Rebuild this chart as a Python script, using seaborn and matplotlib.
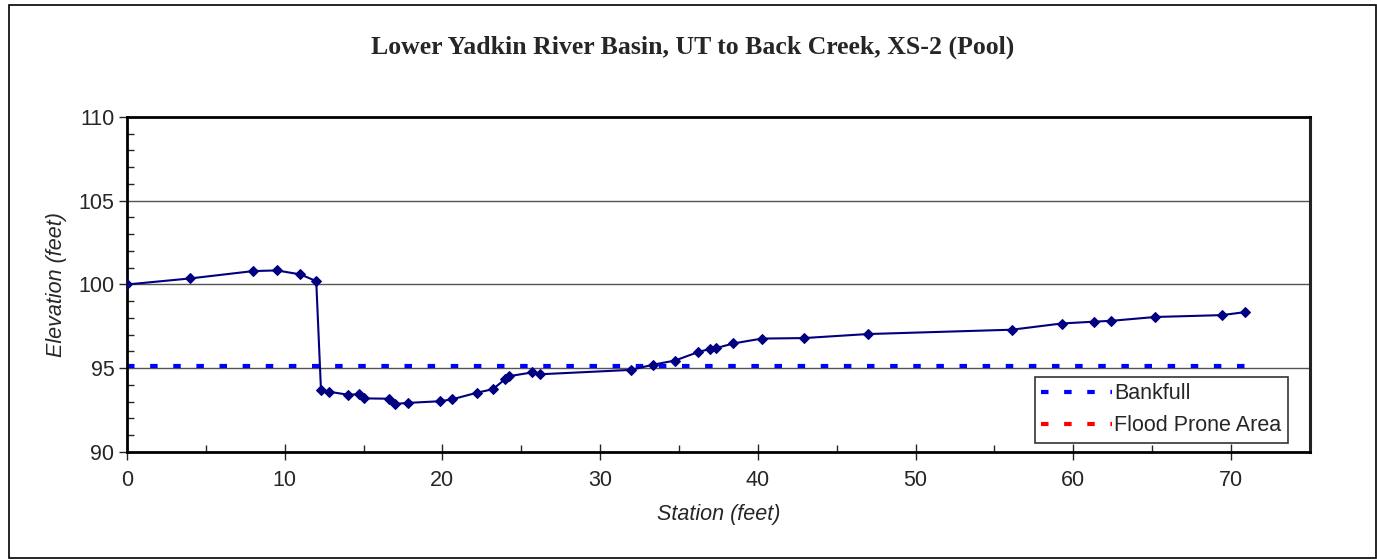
import pandas as pd
import matplotlib
matplotlib.use("Agg")
import matplotlib.pyplot as plt
from matplotlib.lines import Line2D
from matplotlib.patches import Rectangle
from matplotlib.ticker import MultipleLocator
import seaborn as sb

# survey data, XS-2 (Pool)
station = [0.0, 4.0, 8.0, 9.5, 11.0, 12.0, 12.3, 12.8, 14.0, 14.7, 15.0, 16.6, 17.0,
           17.8, 19.85, 20.6, 22.2, 23.2, 23.95, 24.25, 25.7, 26.2, 31.95, 33.35,
           34.75, 36.2, 36.95, 37.35, 38.45, 40.25, 42.9, 46.95, 56.1, 59.25, 61.3,
           62.4, 65.2, 69.4, 70.9]
elevation = [100.0, 100.36, 100.8, 100.84, 100.6, 100.2, 93.72, 93.6, 93.42, 93.45,
             93.2, 93.18, 92.87, 92.93, 93.03, 93.14, 93.54, 93.75, 94.33, 94.53,
             94.75, 94.64, 94.9, 95.21, 95.46, 95.96, 96.15, 96.2, 96.48, 96.77,
             96.8, 97.04, 97.3, 97.67, 97.78, 97.83, 98.06, 98.17, 98.35]
bankfull_station = [0.0, 70.9]
bankfull_elev = [95.15, 95.15]

xs = pd.DataFrame({'station': station, 'elevation': elevation})
bkf = pd.DataFrame({'station': bankfull_station, 'elevation': bankfull_elev})

sb.set_style('white')
plt.rcParams['font.family'] = ['Liberation Sans', 'DejaVu Sans']

fig = plt.figure(figsize=(13.77, 5.6), dpi=100)
ax = fig.add_axes([0.0922, 0.1929, 0.8591, 0.5982])

# rand om de hele figuur
fig.patches.append(Rectangle((0.0065, 0.004), 0.9925, 0.987, transform=fig.transFigure,
                             fill=False, edgecolor='black', linewidth=1.2))

for yv in [95, 100, 105]:
    ax.axhline(yv, color='#555555', linewidth=1.0, zorder=0)

dash = (1.8, 3.75)
sb.lineplot(data=bkf, x='station', y='elevation', ax=ax, color='#0000FF',
            linewidth=3, dashes=False, zorder=2, legend=False)
ax.lines[-1].set_dashes(dash)

sb.lineplot(data=xs, x='station', y='elevation', ax=ax, color='#000080',
            marker='D', markersize=5, markeredgecolor='#000080', linewidth=1.5,
            sort=False, zorder=3, legend=False)

ax.set_xlim(0, 75)
ax.set_ylim(90, 110)
ax.xaxis.set_major_locator(MultipleLocator(10))
ax.xaxis.set_minor_locator(MultipleLocator(5))
ax.yaxis.set_major_locator(MultipleLocator(5))
ax.yaxis.set_minor_locator(MultipleLocator(1))
ax.tick_params(axis='x', which='major', direction='inout', length=12, width=1, labelsize=15.5,
               bottom=True, pad=7)
ax.tick_params(axis='x', which='minor', direction='in', length=5, width=1, bottom=True)
ax.tick_params(axis='y', which='major', direction='out', length=6, width=1, labelsize=15.5,
               left=True, pad=3)
ax.tick_params(axis='y', which='minor', direction='in', length=5, width=1, left=True)

for side in ['left', 'bottom', 'top']:
    ax.spines[side].set_linewidth(2)
    ax.spines[side].set_color('black')
ax.spines['right'].set_linewidth(2.2)
ax.spines['right'].set_color('#222222')

ax.set_xlabel('Station (feet)', fontsize=15.5, style='italic', labelpad=9)
ax.set_ylabel('Elevation (feet)', fontsize=15.5, style='italic', labelpad=8)
fig.text(0.503, 0.916, 'Lower Yadkin River Basin, UT to Back Creek, XS-2 (Pool)',
         ha='center', va='center', fontsize=18.5, fontweight='bold', family='Liberation Serif')

handles = [Line2D([], [], color='#0000FF', linewidth=3, dashes=dash),
           Line2D([], [], color='#FF0000', linewidth=3, dashes=dash)]
leg = ax.legend(handles, ['Bankfull', 'Flood Prone Area'], loc='lower right',
                bbox_to_anchor=(0.9815, 0.028), fontsize=15.5, frameon=True, fancybox=False,
                edgecolor='black', borderpad=0.3, handlelength=3.3, handletextpad=0.1,
                labelspacing=0.5, borderaxespad=0)
leg.get_frame().set_linewidth(1.2)

fig.savefig('out.png', dpi=100)
